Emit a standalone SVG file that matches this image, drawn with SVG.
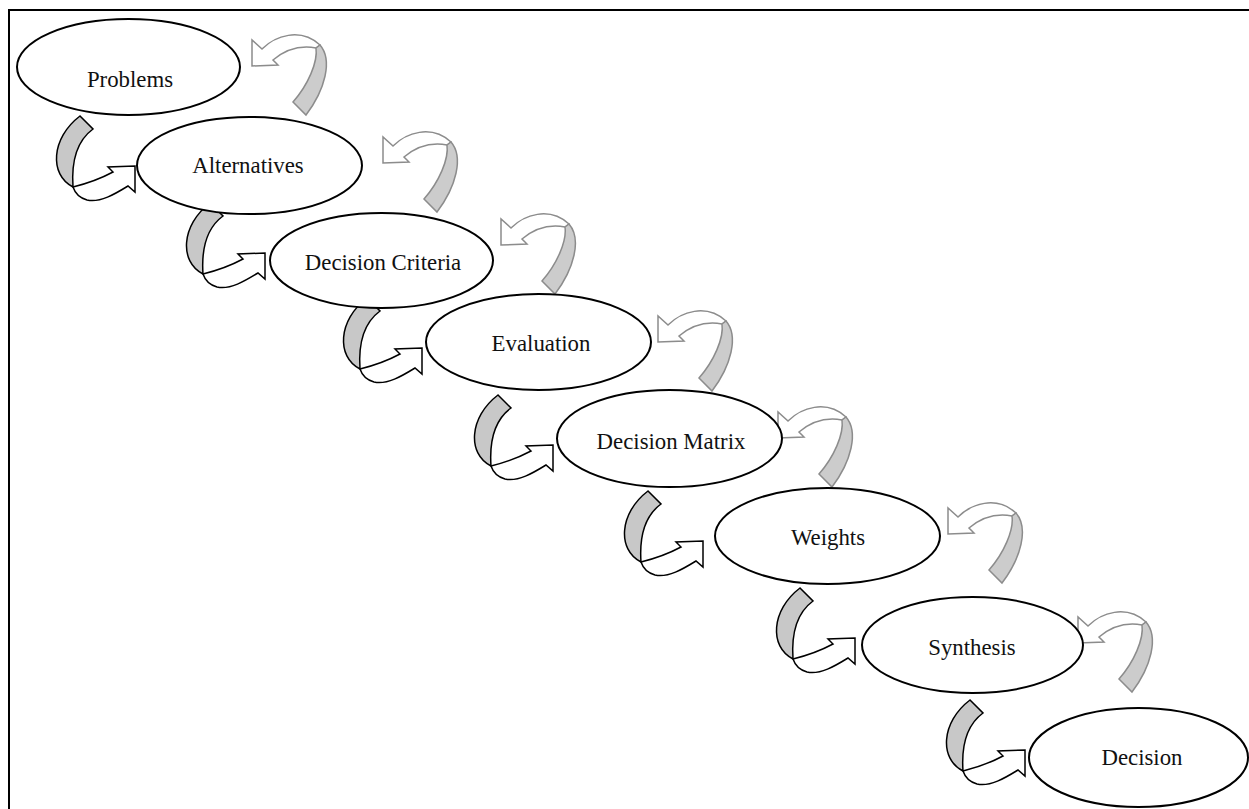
<svg xmlns="http://www.w3.org/2000/svg" xmlns:xlink="http://www.w3.org/1999/xlink" width="1249" height="809" viewBox="0 0 1249 809">
<style>
.node ellipse{fill:#fff;stroke:#000;stroke-width:2}
.node text{font-family:"Liberation Serif","Times New Roman",serif;font-size:22.8px;fill:#111;text-anchor:middle}
.dw{fill:#fff;stroke:#000;stroke-width:1.5;stroke-linejoin:miter}
.dg{fill:#c8c8c8;stroke:#000;stroke-width:1.5}
.uw{fill:#fff;stroke:#8c8c8c;stroke-width:1.5}
.ug{fill:#cccccc;stroke:#8c8c8c;stroke-width:1.5}
</style>
<defs>
<g id="down">
<path class="dw" d="M73,187 C85,184 100,179 113,172 L108,167 L135,166 L135,192 L128,186 C115,194 100,203 87,200 C80,198 75,193 73,187 Z"/>
<path class="dg" d="M80,116 L93,129 C78,140 71,158 73,187 C49,175 51,138 80,116 Z"/>
</g>
<g id="up">
<path class="uw" d="M262,49 C275,36 300,27 320,45 L316,48 C300,45 285,50 273,60 L278,65 L252,66 L252,40 Z"/>
<path class="ug" d="M320,45 C333,60 325,90 306,115 L293,102 C308,85 318,62 316,48 Z"/>
</g>
</defs>
<rect x="9" y="10" width="1260" height="820" fill="none" stroke="#000" stroke-width="2"/>
<g id="connectors">
<use xlink:href="#down"/>
<use xlink:href="#down" transform="translate(130,87)"/>
<use xlink:href="#down" transform="translate(287,182)"/>
<use xlink:href="#down" transform="translate(418,279)"/>
<use xlink:href="#down" transform="translate(568,375)"/>
<use xlink:href="#down" transform="translate(720,472)"/>
<use xlink:href="#down" transform="translate(890,584)"/>
<use xlink:href="#up"/>
<use xlink:href="#up" transform="translate(131,97)"/>
<use xlink:href="#up" transform="translate(249,179)"/>
<use xlink:href="#up" transform="translate(406,276)"/>
<use xlink:href="#up" transform="translate(526,372)"/>
<use xlink:href="#up" transform="translate(696,468)"/>
<use xlink:href="#up" transform="translate(826,577)"/>
</g>
<g id="problems" class="node"><ellipse cx="128.5" cy="67" rx="111.5" ry="48"/><text x="130" y="87">Problems</text></g>
<g id="alternatives" class="node"><ellipse cx="249.5" cy="165.5" rx="112.5" ry="48.5"/><text x="248" y="173">Alternatives</text></g>
<g id="decision-criteria" class="node"><ellipse cx="381.5" cy="260.5" rx="111.5" ry="47.5"/><text x="383" y="270">Decision Criteria</text></g>
<g id="evaluation" class="node"><ellipse cx="538.5" cy="342" rx="112.5" ry="48"/><text x="541" y="351">Evaluation</text></g>
<g id="decision-matrix" class="node"><ellipse cx="669.5" cy="438.5" rx="112.5" ry="48.5"/><text x="671" y="449">Decision Matrix</text></g>
<g id="weights" class="node"><ellipse cx="827.5" cy="536" rx="112.5" ry="48"/><text x="828" y="545">Weights</text></g>
<g id="synthesis" class="node"><ellipse cx="972.5" cy="645" rx="110.5" ry="48"/><text x="972" y="655">Synthesis</text></g>
<g id="decision" class="node"><ellipse cx="1138.5" cy="757.5" rx="109.5" ry="49.5"/><text x="1142" y="765">Decision</text></g>
</svg>
